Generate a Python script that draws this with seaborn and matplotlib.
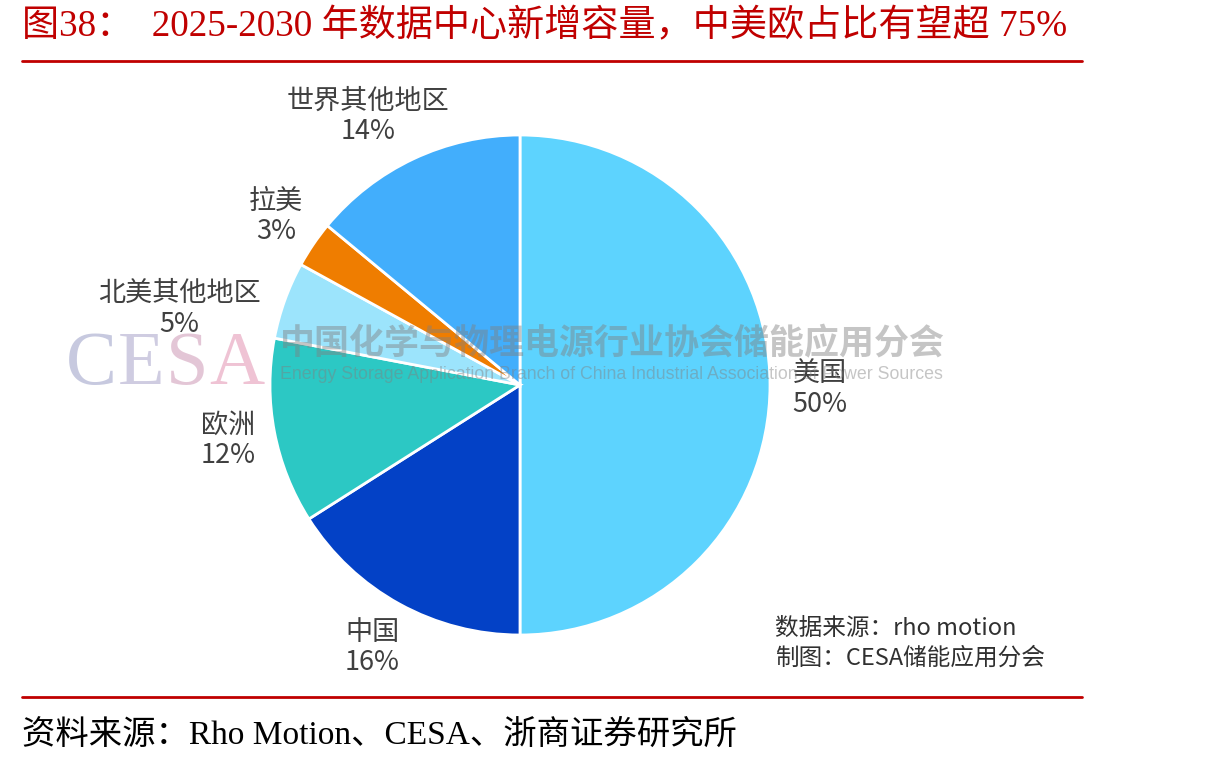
import matplotlib
matplotlib.use("Agg")
import matplotlib.pyplot as plt
import matplotlib.transforms as mtransforms
import seaborn as sns
import numpy as np

# ---- data ----
regions = ["美国", "中国", "欧洲", "北美其他地区", "拉美", "世界其他地区"]
shares = [50, 16, 12, 5, 3, 14]
colors = ["#5DD3FE", "#0341C6", "#2CC8C4", "#9CE4FC", "#EF7D00", "#42AEFC"]

title = "图38：  2025-2030 年数据中心新增容量，中美欧占比有望超 75%"
footnote = "资料来源：Rho Motion、CESA、浙商证券研究所"
source_lines = ["数据来源：rho motion", "制图：CESA储能应用分会"]
wm_letters = ["C", "E", "S", "A"]
wm_letter_colors = ["#B9BCD8", "#C3C0DA", "#DDB8CC", "#EBB5CA"]
wm_cn = "中国化学与物理电源行业协会储能应用分会"
wm_en = "Energy Storage Application Branch of China Industrial Association of Power Sources"

sns.set_theme(style="white")
plt.rcParams["font.family"] = ["Noto Sans CJK SC", "DejaVu Sans"]
serif = ["Liberation Serif", "Noto Sans CJK SC"]

W, H = 1210, 766
fig = plt.figure(figsize=(W / 100, H / 100), dpi=100)
fig.patch.set_facecolor("white")

# pie axes
cx, cy, R = 520, 385, 250
ax = fig.add_axes([(cx - R) / W, (H - cy - R) / H, 2 * R / W, 2 * R / H])
wedges, _ = ax.pie(shares, colors=colors, startangle=90, counterclock=False,
                   radius=1, wedgeprops=dict(edgecolor="white", linewidth=2))
ax.set_xlim(-1, 1)
ax.set_ylim(-1, 1)
ax.set_aspect("equal")
ax.axis("off")

# label placement style: radius, alignment, pixel nudge
label_r = [1.2, 1.2, 1.19, 1.04, 1.2, 1.24]
label_ha = ["center", "center", "center", "right", "center", "center"]
label_nudge = [(0, -4), (-3, 0), (0, 0), (-15, -12), (4, 0), (-20, -12)]
for w, name, val, r, ha, (dx, dy) in zip(wedges, regions, shares, label_r, label_ha, label_nudge):
    ang = np.deg2rad((w.theta1 + w.theta2) / 2)
    tr = mtransforms.offset_copy(ax.transData, fig=fig, x=dx * 0.72, y=dy * 0.72, units="points")
    ax.text(r * np.cos(ang), r * np.sin(ang), f"{name}\n{val}%", ha=ha, va="center",
            multialignment="center", fontsize=19.5, color="#404040", linespacing=1.15,
            clip_on=False, transform=tr)

# watermark: CESA letters placed side by side
renderer = fig.canvas.get_renderer()
x0 = 66 / W
for ch, col in zip(wm_letters, wm_letter_colors):
    t = fig.text(x0, 1 - 384 / H, ch, fontsize=55, color=col, alpha=0.8, family=serif, va="baseline")
    bb = t.get_window_extent(renderer)
    x0 = (bb.x1 + 1) / W
fig.text(280 / W, 1 - 344 / H, wm_cn, fontsize=25.2, color="#808080", alpha=0.45,
         va="center", ha="left", fontweight="bold")
fig.text(280 / W, 1 - 375 / H, wm_en, fontsize=12.8, color="#808080", alpha=0.45,
         va="center", ha="left", family=["Liberation Sans", "DejaVu Sans"])

# source box
fig.text(775 / W, 1 - 628 / H, source_lines[0], fontsize=17, color="#303030", va="center", ha="left")
fig.text(775 / W, 1 - 658 / H, source_lines[1], fontsize=17, color="#303030", va="center", ha="left")

# title + rules
fig.text(22 / W, 1 - 27 / H, title, fontsize=26.7, color="#C00000", va="center", ha="left", family=serif)
fig.add_artist(plt.Line2D([22 / W, 1082 / W], [1 - 61 / H, 1 - 61 / H], color="#C00000", lw=2))
fig.add_artist(plt.Line2D([22 / W, 1082 / W], [1 - 697 / H, 1 - 697 / H], color="#C00000", lw=2))
fig.text(22 / W, 1 - 735 / H, footnote, fontsize=24, color="black", va="center", ha="left", family=serif)

fig.savefig("out.png", dpi=100, facecolor="white")
